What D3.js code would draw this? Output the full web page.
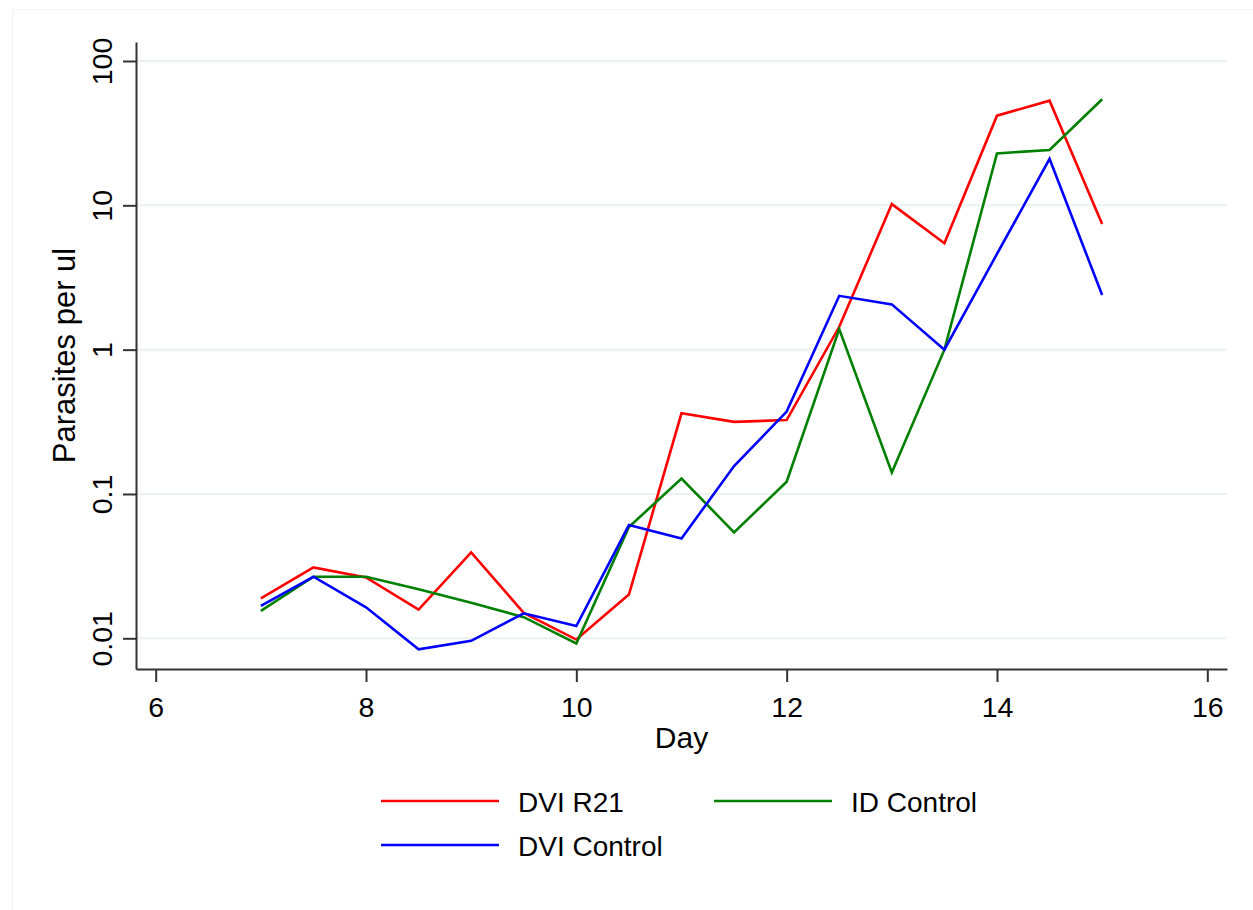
<!DOCTYPE html>
<html>
<head>
  <meta charset="utf-8">
  <script src="https://d3js.org/d3.v7.min.js"></script>
  <style>
    body { margin: 0; background: #fff; }
    svg { display: block; }
    text { font-family: "Liberation Sans", Arial, sans-serif; fill: #000; }
  </style>
</head>
<body>
  <script>
    // days sampled every half day
    var days = [7, 7.5, 8, 8.5, 9, 9.5, 10, 10.5, 11, 11.5, 12, 12.5, 13, 13.5, 14, 14.5, 15];

    // parasites per ul
    var dviR21 = [0.0189, 0.031, 0.0264, 0.0158, 0.0394, 0.015, 0.0098, 0.0201, 0.362, 0.316, 0.325, 1.44, 10.2, 5.46, 41.8, 53.1, 7.41];
    var idControl = [0.0155, 0.0267, 0.0267, 0.0219, 0.0176, 0.014, 0.0092, 0.059, 0.128, 0.0542, 0.1215, 1.39, 0.141, 1.0, 22.9, 24.2, 54.3];
    var dviControl = [0.0168, 0.0267, 0.0164, 0.00838, 0.0096, 0.0149, 0.01215, 0.0609, 0.0492, 0.156, 0.372, 2.36, 2.06, 1.0, 4.6, 21.0, 2.39];

    var xTicks = [6, 8, 10, 12, 14, 16];
    var yTicks = [0.01, 0.1, 1, 10, 100];
    var yTickLabels = ["0.01", "0.1", "1", "10", "100"];

    var series = [
      {name: "DVI R21", values: dviR21, color: "#ff0000"},
      {name: "ID Control", values: idControl, color: "#008000"},
      {name: "DVI Control", values: dviControl, color: "#0000ff"}
    ];

    var W = 1253, H = 910;
    var plotL = 136, plotR = 1227, plotT = 42, plotB = 669;

    var svg = d3.select("body").append("svg")
      .attr("width", W)
      .attr("height", H);

    // faint outer frame
    svg.append("path")
      .attr("d", "M12.5," + H + "V9.5H" + W)
      .attr("fill", "none")
      .attr("stroke", "#f2f2f2")
      .attr("stroke-width", 1);

    // calibrate scales on tick positions, then extend to the axis ends
    var x = d3.scaleLinear().domain([6, 16]).range([155.7, 1207.3]);
    x.domain([x.invert(plotL), x.invert(plotR)]).range([plotL, plotR]);

    var y = d3.scaleLog().domain([0.01, 100]).range([638.3, 61]);
    y.domain([y.invert(plotB), y.invert(plotT)]).range([plotB, plotT]);

    // grid
    svg.append("g")
      .selectAll("line")
      .data(yTicks)
      .enter()
      .append("line")
      .attr("x1", plotL)
      .attr("x2", plotR)
      .attr("y1", function(d) { return y(d); })
      .attr("y2", function(d) { return y(d); })
      .attr("stroke", "#eaf2f3")
      .attr("stroke-width", 2);

    // y axis
    var yAxis = svg.append("g")
      .attr("transform", "translate(" + plotL + ",0)")
      .call(d3.axisLeft(y).tickValues(yTicks).tickSize(13).tickSizeOuter(0)
        .tickFormat(function(d, i) { return yTickLabels[i]; }));
    yAxis.select(".domain").attr("stroke", "#333").attr("stroke-width", 2);
    yAxis.selectAll(".tick line").attr("stroke", "#333").attr("stroke-width", 2);
    yAxis.selectAll(".tick text")
      .attr("x", null).attr("dy", null)
      .attr("transform", "translate(-24,0) rotate(-90)")
      .attr("text-anchor", "middle")
      .style("font-size", "28.5px")
      .style("font-family", "'Liberation Sans', Arial, sans-serif")
      .attr("fill", "#000");

    // x axis
    var xAxis = svg.append("g")
      .attr("transform", "translate(0," + plotB + ")")
      .call(d3.axisBottom(x).tickValues(xTicks).tickSize(13).tickSizeOuter(0)
        .tickFormat(d3.format("d")));
    xAxis.select(".domain").attr("stroke", "#333").attr("stroke-width", 2);
    xAxis.selectAll(".tick line").attr("stroke", "#333").attr("stroke-width", 2);
    xAxis.selectAll(".tick text")
      .attr("y", 48).attr("dy", null)
      .style("font-size", "28.5px")
      .style("font-family", "'Liberation Sans', Arial, sans-serif")
      .attr("fill", "#000");

    // axis titles
    svg.append("text")
      .attr("x", (plotL + plotR) / 2)
      .attr("y", 748)
      .attr("text-anchor", "middle")
      .style("font-size", "30px")
      .text("Day");

    svg.append("text")
      .attr("transform", "translate(75," + ((plotT + plotB) / 2) + ") rotate(-90)")
      .attr("text-anchor", "middle")
      .style("font-size", "31px")
      .text("Parasites per ul");

    // lines
    var line = d3.line()
      .x(function(d) { return x(d[0]); })
      .y(function(d) { return y(d[1]); });

    series.forEach(function(s) {
      svg.append("path")
        .datum(d3.zip(days, s.values))
        .attr("d", line)
        .attr("fill", "none")
        .attr("stroke", s.color)
        .attr("stroke-width", 2.6)
        .attr("stroke-linejoin", "miter");
    });

    // legend
    var legendPos = [
      {lx: 381, ty: 812},
      {lx: 714, ty: 812},
      {lx: 381, ty: 856}
    ];

    var legend = svg.selectAll(".legend")
      .data(series)
      .enter()
      .append("g")
      .attr("class", "legend")
      .attr("transform", function(d, i) {
        return "translate(" + legendPos[i].lx + "," + legendPos[i].ty + ")";
      });

    legend.append("line")
      .attr("x1", 0)
      .attr("x2", 118)
      .attr("y1", -11)
      .attr("y2", -11)
      .attr("stroke", function(d) { return d.color; })
      .attr("stroke-width", 2.6);

    legend.append("text")
      .attr("x", 137)
      .attr("y", 0)
      .style("font-size", "28px")
      .text(function(d) { return d.name; });
  </script>
</body>
</html>
